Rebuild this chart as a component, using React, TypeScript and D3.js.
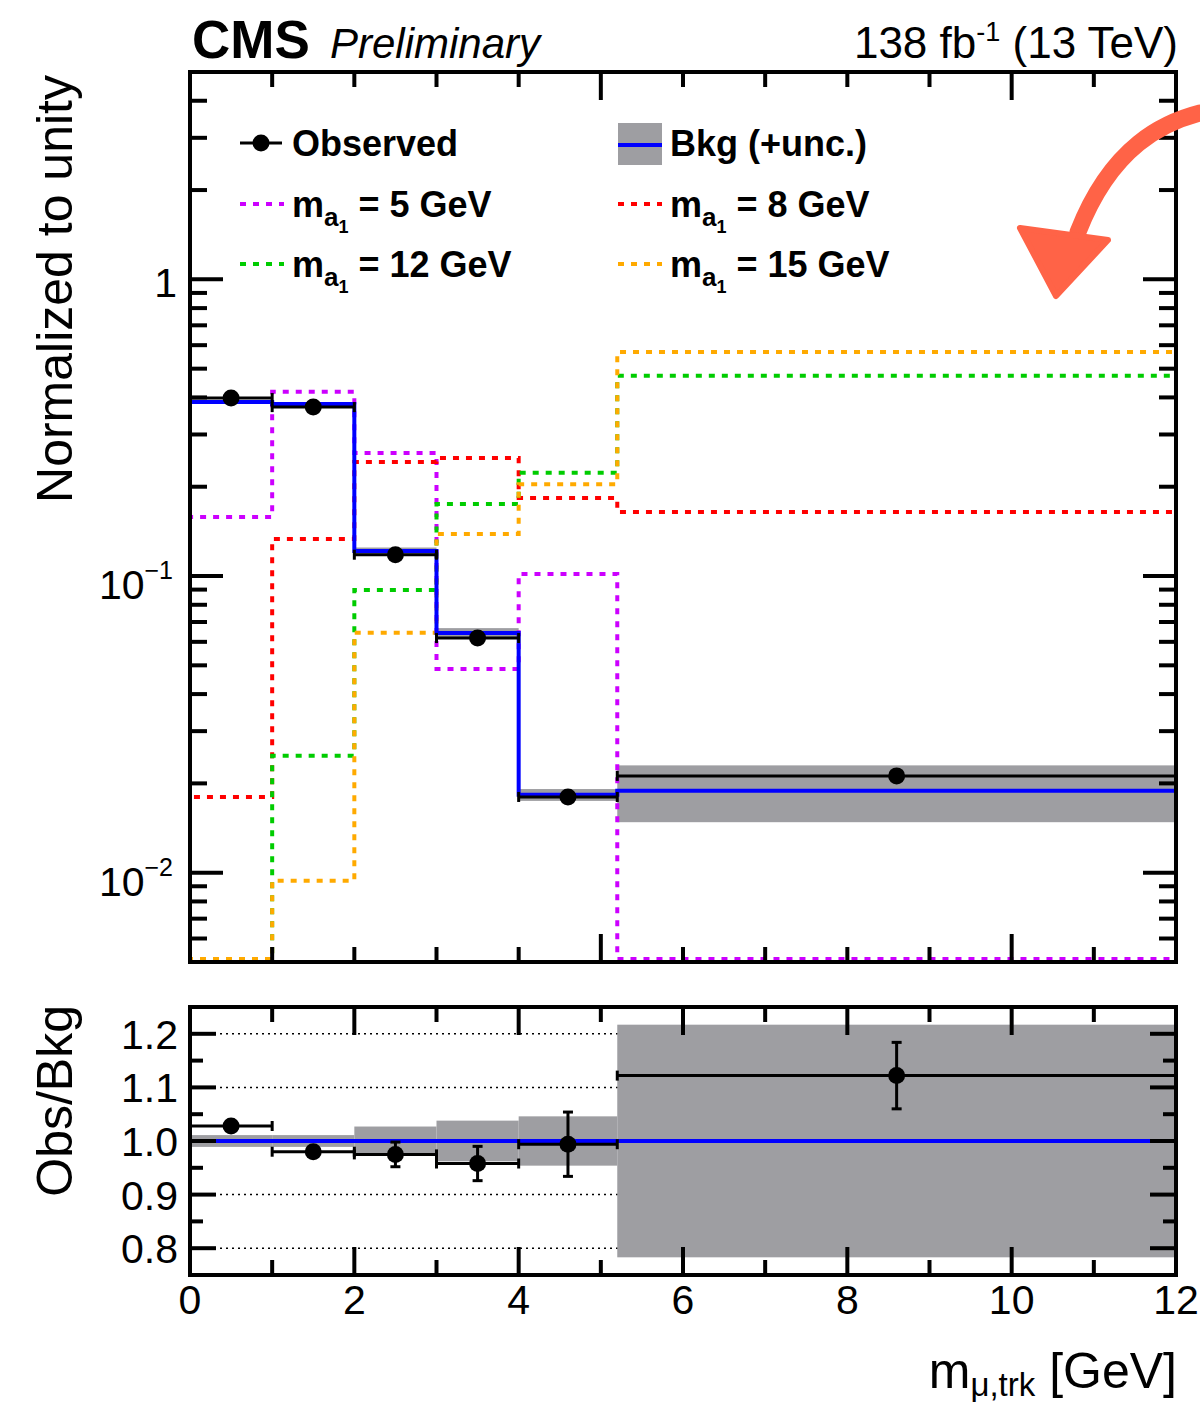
import React from 'react';
import * as d3 from 'd3';

// binning and values (normalized per bin)
const binEdges = [0, 1, 2, 3, 4, 5.2, 12];
const observed = [0.398, 0.371, 0.118, 0.0618, 0.0180, 0.0212];
const background = [0.386, 0.380, 0.1215, 0.0643, 0.0183, 0.0189];
const bkgRelUnc = [0.011, 0.011, 0.027, 0.038, 0.046, 0.217];
const sigMa5 = [0.158, 0.418, 0.260, 0.0486, 0.1016, 0];
const sigMa8 = [0.0180, 0.1334, 0.2425, 0.250, 0.1834, 0.1644];
const sigMa12 = [0, 0.0248, 0.0898, 0.175, 0.223, 0.473];
const sigMa15 = [0, 0.0094, 0.0644, 0.1387, 0.204, 0.569];
const ratioVals = [1.028, 0.980, 0.975, 0.958, 0.994, 1.122];
const ratioErr = [0.004, 0.005, 0.023, 0.032, 0.060, 0.062];

const xTickLabels = [0, 2, 4, 6, 8, 10, 12];
const ratioTickLabels = [0.8, 0.9, 1.0, 1.1, 1.2];

const signals = [
  { name: '5', vals: sigMa5, color: '#cc00ff' },
  { name: '8', vals: sigMa8, color: '#ff0000' },
  { name: '12', vals: sigMa12, color: '#00cc00' },
  { name: '15', vals: sigMa15, color: '#ffaa00' },
];

const FONT = '"Liberation Sans", Arial, Helvetica, sans-serif';
const BAND = '#9e9ea2';
const X0 = 190, X1 = 1176;
const MAIN_TOP = 72, MAIN_BOT = 962;
const RAT_TOP = 1007, RAT_BOT = 1275;
const Y_MIN = 0.005, Y_MAX = 5;

export default function App() {
  const x = d3.scaleLinear().domain([0, 12]).range([X0, X1]);
  const y = d3.scaleLog().domain([Y_MIN, Y_MAX]).range([MAIN_BOT, MAIN_TOP]);
  const yr = d3.scaleLinear().domain([0.75, 1.25]).range([RAT_BOT, RAT_TOP]);
  const line = d3.line();

  const yc = (v: number) => (v <= Y_MIN ? MAIN_BOT - 3 : Math.min(y(v), MAIN_BOT - 3));
  const histPath = (vals: number[]) => {
    const pts: [number, number][] = [[x(binEdges[0]), MAIN_BOT]];
    vals.forEach((v, i) => {
      pts.push([x(binEdges[i]), yc(v)]);
      pts.push([x(binEdges[i + 1]), yc(v)]);
    });
    pts.push([x(binEdges[binEdges.length - 1]), MAIN_BOT]);
    return line(pts) as string;
  };

  const mids = observed.map((_, i) => (binEdges[i] + binEdges[i + 1]) / 2);

  // log ticks, decades are major
  const logTicks: { v: number; major: boolean }[] = [];
  for (let e = -3; e <= 0; e++) {
    for (let m = 1; m <= 9; m++) {
      const v = m * Math.pow(10, e);
      if (v >= Y_MIN && v <= Y_MAX) logTicks.push({ v, major: m === 1 });
    }
  }
  const intTicks = d3.range(0, 13);
  const ratioYTicks = d3.range(0.75, 1.2501, 0.05).map((v) => +v.toFixed(2));

  const sw = 4;
  const dot = 8.5;

  const errBar = (cx: number, cy: number, xl: number, xr: number, yt: number, yb: number, key: string) => (
    <g key={key} stroke="#000" strokeWidth={3}>
      <line x1={xl} x2={xr} y1={cy} y2={cy} />
      <line x1={xl} x2={xl} y1={cy - 5} y2={cy + 5} />
      <line x1={xr} x2={xr} y1={cy - 5} y2={cy + 5} />
      {yb - yt > 2 * dot && (
        <>
          <line x1={cx} x2={cx} y1={yt} y2={yb} />
          <line x1={cx - 5} x2={cx + 5} y1={yt} y2={yt} />
          <line x1={cx - 5} x2={cx + 5} y1={yb} y2={yb} />
        </>
      )}
      <circle cx={cx} cy={cy} r={dot} fill="#000" stroke="none" />
    </g>
  );

  const legendText = (label: string, lx: number, ly: number) => (
    <text x={lx} y={ly} fontSize={36} fontWeight="bold" fontFamily={FONT}>
      m<tspan dy={9} fontSize={26}>a</tspan>
      <tspan dy={7} fontSize={18}>1</tspan>
      <tspan dy={-16} fontSize={36}>{` = ${label} GeV`}</tspan>
    </text>
  );

  return (
    <svg width={1200} height={1406} style={{ position: 'absolute', left: 0, top: 0, background: '#fff' }} fontFamily={FONT}>
      <defs>
        <clipPath id="mainClip">
          <rect x={X0} y={MAIN_TOP} width={X1 - X0} height={MAIN_BOT - MAIN_TOP} />
        </clipPath>
        <clipPath id="ratClip">
          <rect x={X0} y={RAT_TOP} width={X1 - X0} height={RAT_BOT - RAT_TOP} />
        </clipPath>
      </defs>

      {/* header */}
      <text x={192} y={58} fontSize={53} fontWeight="bold">CMS</text>
      <text x={330} y={58} fontSize={42} fontStyle="italic">Preliminary</text>
      <text x={1178} y={58} fontSize={44} textAnchor="end">
        138 fb<tspan dy={-17} fontSize={27}>-1</tspan>
        <tspan dy={17} fontSize={44}> (13 TeV)</tspan>
      </text>

      {/* main panel */}
      <g clipPath="url(#mainClip)">
        {background.map((b, i) => (
          <rect
            key={'band' + i}
            x={x(binEdges[i])}
            width={x(binEdges[i + 1]) - x(binEdges[i])}
            y={y(b * (1 + bkgRelUnc[i]))}
            height={y(b * (1 - bkgRelUnc[i])) - y(b * (1 + bkgRelUnc[i]))}
            fill={BAND}
          />
        ))}
        {signals.map((s) => (
          <path key={s.name} d={histPath(s.vals)} fill="none" stroke={s.color} strokeWidth={4} strokeDasharray="6 7" />
        ))}
        <path d={histPath(background)} fill="none" stroke="#0000ff" strokeWidth={4} />
        {observed.map((o, i) => {
          const err = (o * ratioErr[i]) / ratioVals[i];
          return errBar(x(mids[i]), y(o), x(binEdges[i]), x(binEdges[i + 1]), y(o + err), y(o - err), 'obs' + i);
        })}
      </g>

      {/* main axes */}
      <g stroke="#000" strokeWidth={sw}>
        {intTicks.map((t) => {
          const len = t % 5 === 0 ? 28 : 15;
          return (
            <g key={'mx' + t}>
              <line x1={x(t)} x2={x(t)} y1={MAIN_BOT} y2={MAIN_BOT - len} />
              <line x1={x(t)} x2={x(t)} y1={MAIN_TOP} y2={MAIN_TOP + len} />
            </g>
          );
        })}
        {logTicks.map((t) => {
          const len = t.major ? 33 : 17;
          return (
            <g key={'my' + t.v}>
              <line x1={X0} x2={X0 + len} y1={y(t.v)} y2={y(t.v)} />
              <line x1={X1} x2={X1 - len} y1={y(t.v)} y2={y(t.v)} />
            </g>
          );
        })}
        <rect x={X0} y={MAIN_TOP} width={X1 - X0} height={MAIN_BOT - MAIN_TOP} fill="none" />
      </g>

      {/* main y labels */}
      <text x={177} y={y(1) + 18} fontSize={41} textAnchor="end">1</text>
      {[0.1, 0.01].map((v, i) => (
        <text key={'yl' + v} x={173} y={y(v) + 23} fontSize={41} textAnchor="end">
          10<tspan dy={-20} fontSize={25}>{'\u2212' + (i + 1)}</tspan>
        </text>
      ))}
      <text transform={`translate(72,${MAIN_TOP + 3}) rotate(-90)`} fontSize={50} textAnchor="end">
        Normalized to unity
      </text>

      {/* legend */}
      <g>
        <line x1={240} x2={282} y1={143} y2={143} stroke="#000" strokeWidth={3} />
        <circle cx={261} cy={143} r={dot} fill="#000" />
        <text x={292} y={156} fontSize={36} fontWeight="bold">Observed</text>
        <rect x={618} y={123} width={44} height={42} fill={BAND} />
        <line x1={618} x2={662} y1={145} y2={145} stroke="#0000ff" strokeWidth={4} />
        <text x={670} y={156} fontSize={36} fontWeight="bold">Bkg (+unc.)</text>
        {signals.map((s, i) => {
          const lx = i % 2 === 0 ? 240 : 618;
          const ly = 204 + Math.floor(i / 2) * 60;
          return (
            <g key={'leg' + s.name}>
              <line x1={lx} x2={lx + 44} y1={ly} y2={ly} stroke={s.color} strokeWidth={4} strokeDasharray="6 7" />
              {legendText(s.name, lx + 52, ly + 13)}
            </g>
          );
        })}
      </g>

      {/* annotation arrow */}
      <g fill="#ff6347" stroke="#ff6347" strokeLinecap="round" strokeLinejoin="round">
        <path d="M1200,113 C1165,122 1112,145 1078,232" fill="none" strokeWidth={17} />
        <path d="M1020,228 L1108,240 L1056,296 Z" strokeWidth={6} />
      </g>

      {/* ratio panel */}
      <g stroke="#000" strokeWidth={1.5} strokeDasharray="2 4">
        {[0.8, 0.9, 1.1, 1.2].map((v) => (
          <line key={'g' + v} x1={X0} x2={X1} y1={yr(v)} y2={yr(v)} />
        ))}
      </g>
      <g clipPath="url(#ratClip)">
        {bkgRelUnc.map((u, i) => (
          <rect
            key={'rb' + i}
            x={x(binEdges[i])}
            width={x(binEdges[i + 1]) - x(binEdges[i])}
            y={yr(1 + u)}
            height={yr(1 - u) - yr(1 + u)}
            fill={BAND}
          />
        ))}
        <line x1={X0} x2={X1} y1={yr(1)} y2={yr(1)} stroke="#0000ff" strokeWidth={4} />
        {ratioVals.map((r, i) =>
          errBar(x(mids[i]), yr(r), x(binEdges[i]), x(binEdges[i + 1]), yr(r + ratioErr[i]), yr(r - ratioErr[i]), 'r' + i)
        )}
      </g>
      <g stroke="#000" strokeWidth={sw}>
        {intTicks.map((t) => {
          const len = t % 2 === 0 ? 28 : 15;
          return (
            <g key={'rx' + t}>
              <line x1={x(t)} x2={x(t)} y1={RAT_BOT} y2={RAT_BOT - len} />
              <line x1={x(t)} x2={x(t)} y1={RAT_TOP} y2={RAT_TOP + len} />
            </g>
          );
        })}
        {ratioYTicks.map((v, i) => {
          const len = i % 2 === 1 ? 26 : 13;
          return (
            <g key={'ry' + v}>
              <line x1={X0} x2={X0 + len} y1={yr(v)} y2={yr(v)} />
              <line x1={X1} x2={X1 - len} y1={yr(v)} y2={yr(v)} />
            </g>
          );
        })}
        <rect x={X0} y={RAT_TOP} width={X1 - X0} height={RAT_BOT - RAT_TOP} fill="none" />
      </g>
      {ratioTickLabels.map((v) => (
        <text key={'rl' + v} x={178} y={yr(v) + 15} fontSize={41} textAnchor="end">
          {v.toFixed(1)}
        </text>
      ))}
      <text transform={`translate(72,${RAT_TOP - 2}) rotate(-90)`} fontSize={50} textAnchor="end">
        Obs/Bkg
      </text>

      {/* x axis labels */}
      {xTickLabels.map((t) => (
        <text key={'xl' + t} x={x(t)} y={1314} fontSize={41} textAnchor="middle">
          {t}
        </text>
      ))}
      <text x={1177} y={1388} fontSize={50} textAnchor="end">
        m<tspan dy={8} fontSize={33}>μ,trk</tspan>
        <tspan dy={-8} fontSize={50}> [GeV]</tspan>
      </text>
    </svg>
  );
}
